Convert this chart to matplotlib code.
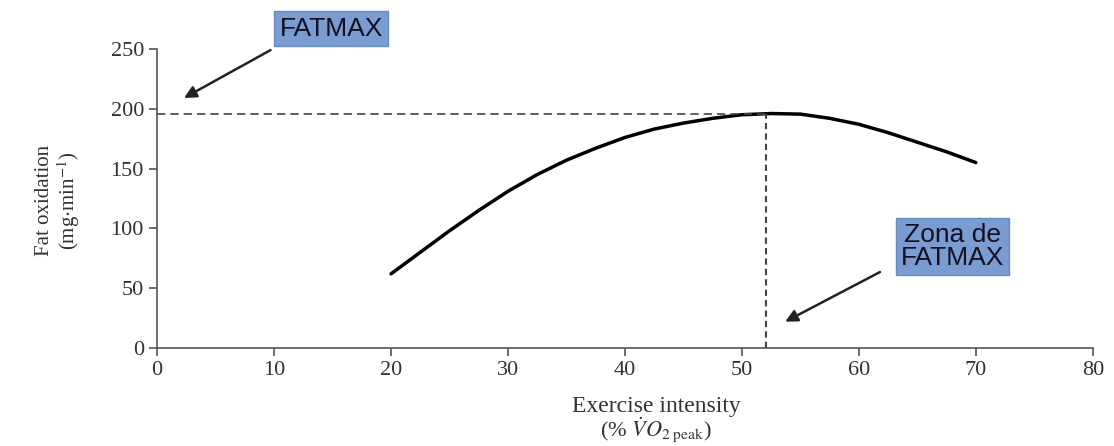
import matplotlib
matplotlib.use('Agg')
import matplotlib.pyplot as plt

# values
intensity = [20, 22.5, 25, 27.5, 30, 32.5, 35, 37.5, 40, 42.5, 45, 47.5, 50, 52.5, 55, 57.5, 60, 62.5, 65, 67.5, 70]
fat_ox = [62, 80, 98, 115, 131, 145, 157, 167, 176, 183, 188, 192, 195, 196, 195.5, 192, 187, 180, 172, 164, 155]
fatmax_x = 52.1
fatmax_y = 196
x_ticks = [0, 10, 20, 30, 40, 50, 60, 70, 80]
y_ticks = [0, 50, 100, 150, 200, 250]

plt.rcParams['font.family'] = 'Liberation Serif'
plt.rcParams['mathtext.fontset'] = 'stix'

fig = plt.figure(figsize=(11.14, 4.46), dpi=100)
ax = fig.add_axes([0.141, 0.2197, 0.840, 0.6706])

ax.plot(intensity, fat_ox, color='black', linewidth=2.5, solid_capstyle='round')
ax.plot([0, fatmax_x], [fatmax_y, fatmax_y], color='#444444', linestyle=(0, (5, 3)), linewidth=1.2)
ax.plot([fatmax_x, fatmax_x], [0, fatmax_y], color='#444444', linestyle=(0, (3, 2)), linewidth=1.5)

ax.set_xlim(0, 80)
ax.set_ylim(0, 250)
ax.set_xticks(x_ticks)
ax.set_yticks(y_ticks)
ax.spines['top'].set_visible(False)
ax.spines['right'].set_visible(False)
for s in ['left', 'bottom']:
    ax.spines[s].set_color('#555555')
    ax.spines[s].set_linewidth(1.2)
ax.tick_params(direction='out', length=6, width=1.2, color='#555555', labelsize=16, labelcolor='#333333')

# axis labels
fig.text(0.589, 0.088, 'Exercise intensity', ha='center', va='center', fontsize=17, color='#333333')
fig.text(0.589, 0.035, r'(% $\dot{V}O_{2\ \mathrm{peak}}$)', ha='center', va='center', fontsize=16, color='#333333')
fig.text(0.040, 0.55, 'Fat oxidation', rotation=90, ha='center', va='center', fontsize=15, color='#333333')
fig.text(0.062, 0.55, r'(mg$\cdot$min$^{-1}$)', rotation=90, ha='center', va='center', fontsize=15, color='#333333')

# annotations
box = dict(boxstyle='square,pad=0.2', facecolor='#7b9cd1', edgecolor='#6a8bc0')
arrow = dict(arrowstyle='-|>', color='#222222', lw=1.8, mutation_scale=18, shrinkA=0, shrinkB=0)

ax.text(14.9, 267, 'FATMAX', fontsize=19, family='Liberation Sans', color='#111122',
        ha='center', va='center', bbox=box, clip_on=False)
ax.annotate('', xy=(2.3, 209), xytext=(9.7, 249), annotation_clip=False, arrowprops=arrow)

ax.text(68.0, 85, 'Zona de\nFATMAX', fontsize=19, family='Liberation Sans', color='#111122',
        ha='center', va='center', bbox=box, linespacing=0.95, clip_on=False)
ax.annotate('', xy=(53.7, 22), xytext=(61.8, 63.5), annotation_clip=False, arrowprops=arrow)

fig.savefig('out.png', dpi=100)
